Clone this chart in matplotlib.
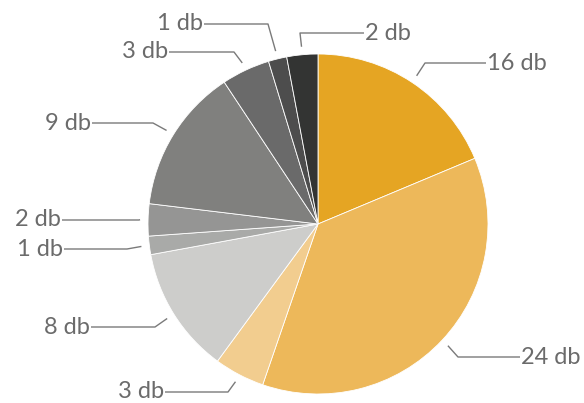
import numpy as np
import matplotlib
matplotlib.use("Agg")
import matplotlib.pyplot as plt

# Data (slice shares, in percent) and labels
labels = ["16 db", "24 db", "3 db", "8 db", "1 db", "2 db", "9 db", "3 db", "1 db", "2 db"]
shares = [18.7, 36.6, 4.8, 12.05, 1.75, 3.05, 13.8, 4.6, 1.75, 2.95]
colors = ["#E5A523", "#EDB85A", "#F2CD8F", "#CDCDCB", "#A9AAA8",
          "#959594", "#80807E", "#6A6A6A", "#4D4D4D", "#333433"]

W, H = 584, 403
fig = plt.figure(figsize=(W / 100, H / 100), dpi=100)
ax = fig.add_axes([0, 0, 1, 1])
ax.axis("off")

cx, cy, R = 318, H - 224, 170
wedges, _ = ax.pie(shares, colors=colors, startangle=90, counterclock=False,
                   center=(cx, cy), radius=R,
                   wedgeprops=dict(edgecolor="white", linewidth=0.6))
ax.set_xlim(0, W)
ax.set_ylim(0, H)

# layout of labels: (elbow x, text y in pixel rows from top, side)
layout = [
    (425, 63, "r"),
    (458, 357, "r"),
    (228, 392, "l"),
    (155, 327, "l"),
    (127, 249, "l"),
    (139, 220, "l"),
    (153, 123, "l"),
    (234, 52, "l"),
    (268, 24, "l"),
    (300, 33, "r"),
]
text_x = {0: 486, 1: 520, 2: 165, 3: 91, 4: 64, 5: 62, 6: 92, 7: 169, 8: 204, 9: 364}

lc = "#7a7a7a"
tc = "#6b6b6b"
for i, (w, (ex, ty, side)) in enumerate(zip(wedges, layout)):
    mid = np.deg2rad((w.theta1 + w.theta2) / 2)
    sx = cx + 178 * np.cos(mid)
    sy = cy + 178 * np.sin(mid)
    y = H - ty
    tx = text_x[i]
    ax.plot([sx, ex, tx], [sy, y, y], color=lc, lw=1.0, solid_capstyle="butt")
    if side == "r":
        ax.text(tx + 1, y, labels[i], ha="left", va="center", fontsize=17,
                color=tc, family="Lato")
    else:
        ax.text(tx - 1, y, labels[i], ha="right", va="center", fontsize=17,
                color=tc, family="Lato")

fig.savefig("out.png", dpi=100)
